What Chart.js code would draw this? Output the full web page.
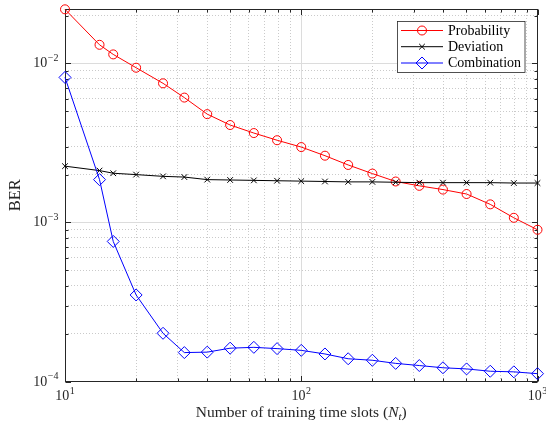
<!DOCTYPE html>
<html>
<head>
<meta charset="utf-8">
<title>BER vs training time slots</title>
<script src="https://cdn.jsdelivr.net/npm/chart.js@4.4.1/dist/chart.umd.min.js"></script>
<style>
  html, body { margin: 0; padding: 0; background: #fff; }
  #wrap { width: 546px; height: 428px; }
</style>
</head>
<body>
<div id="wrap"><canvas id="berChart" width="546" height="428"></canvas></div>
<script>
// Number of training time slots (x axis, log scale)
const trainingSlots = [10, 14, 16, 20, 26, 32, 40, 50, 63, 79, 100, 126, 158, 200, 251, 316, 398, 501, 631, 794, 1000];

// BER
const berProbability = [0.0219, 0.0131, 0.0114, 0.0094, 0.0075, 0.0061, 0.0048, 0.0041, 0.00365, 0.00329, 0.00298,
                        0.00263, 0.0023, 0.00203, 0.00181, 0.0017, 0.00161, 0.00151, 0.0013, 0.00107, 0.0009];
const berDeviation = [0.00226, 0.00212, 0.00204, 0.0020, 0.00195, 0.00193, 0.00186, 0.00185, 0.00184, 0.00183, 0.00182,
                      0.00181, 0.0018, 0.0018, 0.00179, 0.00178, 0.00178, 0.00178, 0.00178, 0.00177, 0.00177];
const berCombination = [0.00817, 0.00186, 0.00076, 0.00035, 0.000201, 0.000152, 0.000153, 0.000162, 0.000164, 0.000161, 0.000157,
                        0.000149, 0.000139, 0.000136, 0.00013, 0.000126, 0.000122, 0.00012, 0.000116, 0.000115, 0.000112];

const seriesNames = ['Probability', 'Deviation', 'Combination'];

// axis ticks (decades get labels, the rest are minor)
const xTicks = [10, 20, 30, 40, 50, 60, 70, 80, 90, 100, 200, 300, 400, 500, 600, 700, 800, 900, 1000];
const yTicks = [1e-4, 2e-4, 3e-4, 4e-4, 5e-4, 6e-4, 7e-4, 8e-4, 9e-4,
                1e-3, 2e-3, 3e-3, 4e-3, 5e-3, 6e-3, 7e-3, 8e-3, 9e-3,
                1e-2, 2e-2];
const xRange = [10, 1000];
const yRange = [1e-4, 0.022];

const SERIF = '"Liberation Serif", "Times New Roman", serif';
const INK = '#262626';

function isDecade(v) {
    const l = Math.log10(v);
    return Math.abs(l - Math.round(l)) < 1e-6;
}

function toPoints(ys) {
    return trainingSlots.map((x, i) => ({ x: x, y: ys[i] }));
}

// "10" with a raised exponent, the way MATLAB prints log ticks
function drawPower(ctx, x, baseline, exp, align) {
    ctx.font = '14px ' + SERIF;
    const wb = ctx.measureText('10').width;
    const expText = exp < 0 ? '\u2212' + (-exp) : String(exp);
    ctx.font = '10px ' + SERIF;
    const we = ctx.measureText(expText).width;
    const x0 = align === 'right' ? x - wb - we - 0.5 : x - (wb + we + 0.5) / 2;
    ctx.textAlign = 'left';
    ctx.textBaseline = 'alphabetic';
    ctx.font = '14px ' + SERIF;
    ctx.fillText('10', x0, baseline);
    ctx.font = '10px ' + SERIF;
    ctx.fillText(expText, x0 + wb + 0.5, baseline - 6.5);
}

const matlabAxes = {
    id: 'matlabAxes',
    beforeDatasetsDraw(chart) {
        const ctx = chart.ctx;
        const { left, right, top, bottom } = chart.chartArea;
        const xs = chart.scales.x, ys = chart.scales.y;
        const L = Math.round(left) + 0.5, R = Math.round(right) - 0.5;
        const T = Math.round(top) + 0.5, B = Math.round(bottom) - 0.5;
        ctx.save();
        ctx.strokeStyle = INK;
        ctx.lineWidth = 1;
        ctx.strokeRect(L, T, R - L, B - T);

        // inward tick marks on all four sides
        ctx.beginPath();
        xs.ticks.forEach(t => {
            const px = Math.round(xs.getPixelForValue(t.value)) + 0.5;
            const len = isDecade(t.value) ? 5.5 : 3;
            ctx.moveTo(px, B); ctx.lineTo(px, B - len);
            ctx.moveTo(px, T); ctx.lineTo(px, T + len);
        });
        ys.ticks.forEach(t => {
            const py = Math.round(ys.getPixelForValue(t.value)) + 0.5;
            const len = isDecade(t.value) ? 5.5 : 3;
            ctx.moveTo(L, py); ctx.lineTo(L + len, py);
            ctx.moveTo(R, py); ctx.lineTo(R - len, py);
        });
        ctx.stroke();

        // tick labels
        ctx.fillStyle = INK;
        xs.ticks.forEach(t => {
            if (!isDecade(t.value)) return;
            drawPower(ctx, xs.getPixelForValue(t.value), 400, Math.round(Math.log10(t.value)), 'center');
        });
        ys.ticks.forEach(t => {
            if (!isDecade(t.value)) return;
            drawPower(ctx, 58.5, ys.getPixelForValue(t.value) + 4, Math.round(Math.log10(t.value)), 'right');
        });

        // x axis title with italic N_t
        const parts = [
            { text: 'Number of training time slots (', font: '15.5px ' + SERIF, dy: 0 },
            { text: 'N', font: 'italic 15.5px ' + SERIF, dy: 0 },
            { text: 't', font: 'italic 11px ' + SERIF, dy: 3 },
            { text: ')', font: '15.5px ' + SERIF, dy: 0 }
        ];
        let total = 0;
        parts.forEach(p => { ctx.font = p.font; p.w = ctx.measureText(p.text).width; total += p.w; });
        let cx = (left + right) / 2 - total / 2;
        parts.forEach(p => {
            ctx.font = p.font;
            ctx.fillText(p.text, cx, 417 + p.dy);
            cx += p.w;
        });
        ctx.restore();
    },
    afterDatasetsDraw(chart) {
        // legend box, upper right
        const ctx = chart.ctx;
        const box = { left: 397, top: 21, right: 525.5, bottom: 73 };
        const rows = [30.5, 46.7, 63];
        ctx.save();
        ctx.fillStyle = '#fff';
        ctx.fillRect(box.left, box.top, box.right - box.left, box.bottom - box.top);
        ctx.strokeStyle = INK;
        ctx.lineWidth = 0.8;
        ctx.strokeRect(box.left + 0.5, box.top + 0.5, box.right - box.left - 1, box.bottom - box.top - 1);
        chart.data.datasets.forEach((ds, i) => {
            const y = rows[i];
            ctx.strokeStyle = ds.borderColor;
            ctx.lineWidth = 1;
            ctx.beginPath();
            ctx.moveTo(401, y); ctx.lineTo(443, y);
            ctx.stroke();
            ctx.fillStyle = 'rgba(0,0,0,0)';
            Chart.helpers.drawPoint(ctx, {
                pointStyle: ds.pointStyle, rotation: 0,
                radius: ds.pointRadius, borderWidth: ds.pointBorderWidth
            }, 422, y);
            ctx.fillStyle = '#000';
            ctx.font = '14px ' + SERIF;
            ctx.textAlign = 'left';
            ctx.textBaseline = 'middle';
            ctx.fillText(ds.label, 448, y + 0.5);
        });
        ctx.restore();
    }
};

const gridColor = c => (c.tick && isDecade(c.tick.value)) ? '#dcdcdc' : '#cacaca';
const gridDash = c => (c.tick && isDecade(c.tick.value)) ? [] : [1, 2];

new Chart(document.getElementById('berChart').getContext('2d'), {
    type: 'line',
    data: {
        datasets: [
            {
                label: seriesNames[0],
                data: toPoints(berProbability),
                borderColor: '#ff0000',
                backgroundColor: 'rgba(0,0,0,0)',
                borderWidth: 1,
                pointStyle: 'circle',
                pointRadius: 4.5,
                pointBorderWidth: 1,
                tension: 0,
                clip: false,
                order: 2
            },
            {
                label: seriesNames[1],
                data: toPoints(berDeviation),
                borderColor: '#000000',
                backgroundColor: 'rgba(0,0,0,0)',
                borderWidth: 1,
                pointStyle: 'crossRot',
                pointRadius: 4,
                pointBorderWidth: 1,
                tension: 0,
                clip: false,
                order: 1
            },
            {
                label: seriesNames[2],
                data: toPoints(berCombination),
                borderColor: '#0000ff',
                backgroundColor: 'rgba(0,0,0,0)',
                borderWidth: 1,
                pointStyle: 'rectRot',
                pointRadius: 6,
                pointBorderWidth: 1,
                tension: 0,
                clip: false,
                order: 0
            }
        ]
    },
    options: {
        responsive: false,
        animation: false,
        layout: { padding: { left: 0, right: 8.5, top: 9, bottom: 0 } },
        plugins: {
            legend: { display: false },
            tooltip: { enabled: false }
        },
        scales: {
            x: {
                type: 'logarithmic',
                min: xRange[0],
                max: xRange[1],
                afterBuildTicks: s => { s.ticks = xTicks.map(v => ({ value: v })); },
                afterFit: s => { s.height = 46.5; },
                ticks: { display: false },
                grid: { drawTicks: false, lineWidth: 1, color: gridColor },
                border: { display: false, dash: gridDash }
            },
            y: {
                type: 'logarithmic',
                min: yRange[0],
                max: yRange[1],
                afterBuildTicks: s => { s.ticks = yTicks.map(v => ({ value: v })); },
                afterFit: s => { s.width = 65; },
                ticks: { display: false },
                grid: { drawTicks: false, lineWidth: 1, color: gridColor },
                border: { display: false, dash: gridDash },
                title: {
                    display: true,
                    text: 'BER',
                    color: INK,
                    font: { family: SERIF, size: 16.5 },
                    padding: { top: 6, bottom: 0 }
                }
            }
        }
    },
    plugins: [matlabAxes]
});
</script>
</body>
</html>
